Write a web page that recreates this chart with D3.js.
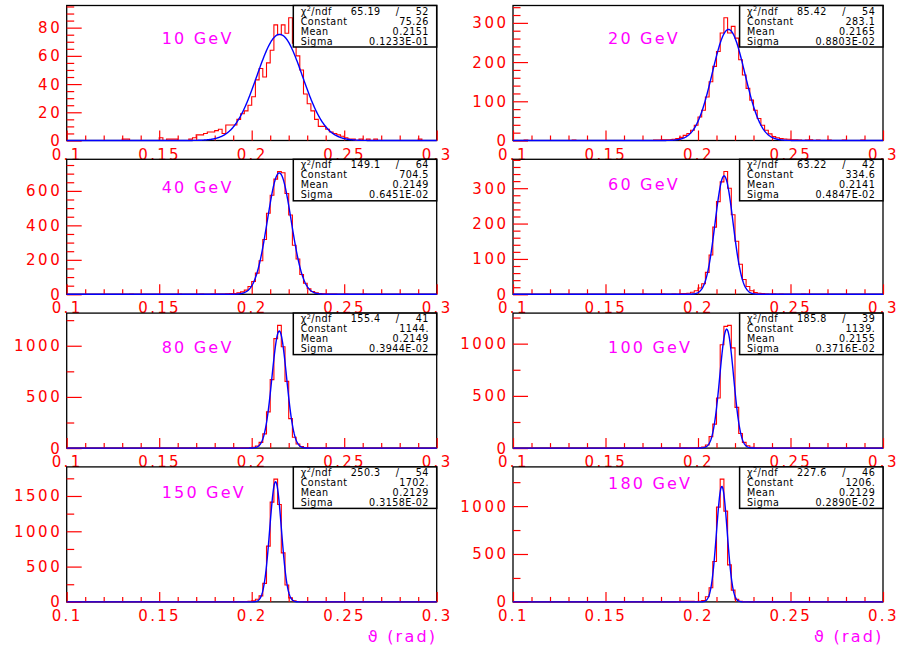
<!DOCTYPE html>
<html><head><meta charset="utf-8">
<script src="https://cdn.jsdelivr.net/npm/d3@7"></script>
<style>
body{margin:0;background:#fff}
text{font-family:"DejaVu Sans",sans-serif}
</style>
</head><body><svg id="c" width="898" height="652"></svg>
<script>
// ---------------- data ----------------
const energies = ["10 GeV","20 GeV","40 GeV","60 GeV","80 GeV","100 GeV","150 GeV","180 GeV"];
const chi2 = ["65.19","85.42","149.1","63.22","155.4","185.8","250.3","227.6"];
const ndf = ["52","54","64","42","41","39","54","46"];
const constants = ["75.26","283.1","704.5","334.6","1144.","1139.","1702.","1206."];
const means = ["0.2151","0.2165","0.2149","0.2141","0.2149","0.2155","0.2129","0.2129"];
const sigmas = ["0.1233E-01","0.8803E-02","0.6451E-02","0.4847E-02","0.3944E-02","0.3716E-02","0.3158E-02","0.2890E-02"];

// 100 bins from 0.1 to 0.3
const h10 = [
0,0,0,0,0,0,0,0,0,0,0,0,0,0,0,1,1,0,0,0,
0,0,0,0,0,2,0,1,1,1,0,0,0,1,2,4,4,5,6,6,
7,8,5,11,11,11,15,19,21,25,31,43,51,45,55,64,82,75,82,76,
87,69,60,50,33,26,21,15,10,10,8,6,5,4,3,2,1,1,0,1,
0,1,0,1,0,0,0,0,0,0,0,0,0,0,0,1,0,0,0,0];
const h20 = [
0,0,0,1,0,0,0,0,0,0,0,0,0,0,0,0,1,0,0,0,
0,0,0,0,0,0,0,0,0,0,0,0,0,0,0,0,0,0,1,1,
2,2,2,3,5,8,13,18,26,39,60,77,111,150,189,227,274,313,274,291,
261,206,167,133,103,77,56,39,26,17,10,7,5,4,3,2,2,1,0,1,
2,0,1,0,0,1,0,0,0,1,0,0,0,0,1,0,0,0,0,0];
const h40 = [
0,0,0,0,0,0,0,0,0,0,0,0,0,0,0,0,0,1,0,0,
0,0,0,0,0,0,0,0,0,0,1,0,0,0,0,0,1,0,0,1,
2,1,2,3,4,5,8,14,24,45,74,123,195,318,470,575,668,712,705,585,
460,285,205,115,64,32,16,8,5,3,2,1,1,0,0,1,0,0,0,0,
1,0,0,0,0,0,0,0,0,0,0,0,0,0,0,0,0,0,0,0];
const h60 = [
0,0,0,0,0,0,0,0,0,0,0,0,0,0,0,0,0,0,0,0,
0,0,0,0,0,0,0,0,0,0,0,0,0,0,0,1,0,0,0,0,
1,0,0,1,0,2,2,3,6,10,18,30,62,111,190,262,318,347,300,225,
150,85,42,22,10,5,3,2,1,0,1,0,1,0,0,0,0,0,1,0,
0,0,0,0,0,0,0,0,0,0,0,0,0,0,0,0,0,0,0,0];
const h80 = [
0,0,0,0,0,0,0,0,0,0,0,0,0,0,0,0,0,0,0,0,
0,0,0,0,0,0,0,0,0,0,0,0,0,0,0,0,0,0,0,0,
0,0,0,0,0,2,0,2,3,4,8,20,56,139,354,669,1070,1199,990,652,
288,106,40,15,6,3,1,0,1,0,1,0,0,0,0,0,0,0,0,0,
0,0,0,0,0,0,0,0,0,0,0,0,0,0,0,0,0,0,0,0];
const h100 = [
0,0,0,0,0,0,0,0,0,0,0,0,0,0,0,0,0,0,0,0,
0,0,0,0,0,0,0,0,0,0,0,0,0,0,0,0,0,0,0,0,
0,0,0,0,0,0,2,0,2,3,5,10,30,110,230,480,990,1165,1175,960,
390,140,55,23,8,4,2,0,1,0,0,1,0,0,0,0,0,0,0,0,
0,0,0,0,0,0,0,0,0,0,0,0,0,0,0,0,0,0,0,0];
const h150 = [
0,0,0,0,0,0,0,0,0,0,0,0,0,0,0,0,0,0,0,0,
0,0,0,0,0,0,0,0,0,0,0,0,0,0,0,0,0,0,0,0,
0,0,0,0,2,0,2,3,5,8,15,38,86,263,790,1413,1738,1379,694,240,
57,15,5,2,1,0,1,0,0,0,0,0,0,0,0,0,0,0,0,0,
0,0,0,0,0,0,0,0,0,0,0,0,0,0,0,0,0,0,0,0];
const h180 = [
0,0,0,0,0,0,0,0,0,0,0,0,0,0,0,0,0,0,0,0,
0,0,0,0,0,0,0,0,0,0,0,0,0,0,0,0,0,0,0,0,
0,0,0,0,3,5,6,5,6,4,6,14,53,147,421,989,1281,947,386,123,
28,7,3,1,0,1,0,0,0,0,0,0,0,0,0,0,0,0,0,0,
0,0,0,0,0,0,0,0,0,0,0,0,0,0,0,0,0,0,0,0];
const histograms = [h10,h20,h40,h60,h80,h100,h150,h180];

const xTickValues = [0.1,0.15,0.2,0.25,0.3];
const xTickLabels = ["0.1","0.15","0.2","0.25","0.3"];
const yTickValues = [[0,20,40,60,80],[0,100,200,300],[0,200,400,600],[0,100,200,300],
                     [0,500,1000],[0,500,1000],[0,500,1000,1500],[0,500,1000]];
const yMinorStep = [5,20,50,20,250,250,250,250];
const statNames = ["Constant","Mean","Sigma"];
const axisTitle = "\u03D1 (rad)";

// ---------------- layout ----------------
const colX = [66.7, 513];
const rowY = [5.5, 159.3, 313.1, 466.9];
const FW = 370, FH = 135;
const labelBaseline = [38, 38, 33.5, 31, 40, 40, 31.5, 22];
const RED = "#ff0000", BLUE = "#0000ff", MAG = "#ff00ff";

const svg = d3.select("#c");

histograms.forEach((counts, k) => {
  const col = k % 2, row = Math.floor(k / 2);
  const g = svg.append("g").attr("transform", `translate(${colX[col]},${rowY[row]})`);
  const nb = counts.length;
  const x = d3.scaleLinear().domain([0.1, 0.3]).range([0, FW]);
  const ymax = d3.max(counts) * 1.1;
  const y = d3.scaleLinear().domain([0, ymax]).range([FH, 0]);

  // frame
  g.append("rect").attr("width", FW).attr("height", FH)
    .attr("fill", "none").attr("stroke", "#000").attr("stroke-width", 1.3);

  // x ticks (inward, at bottom)
  const xMinor = d3.range(10, 31).map(d => d / 100).filter(v => !xTickValues.some(t => Math.abs(t - v) < 1e-9));
  const axX1 = g.append("g").attr("transform", `translate(0,${FH})`)
    .call(d3.axisBottom(x).tickValues(xTickValues).tickSize(-10).tickFormat(""));
  const axX2 = g.append("g").attr("transform", `translate(0,${FH})`)
    .call(d3.axisBottom(x).tickValues(xMinor).tickSize(-5).tickFormat(""));
  // y ticks (inward, at left)
  const yMaj = yTickValues[k].filter(v => v <= ymax);
  const yMin = d3.range(0, ymax, yMinorStep[k]).filter(v => !yMaj.includes(v));
  const axY1 = g.append("g").call(d3.axisLeft(y).tickValues(yMaj).tickSize(-15).tickFormat(""));
  const axY2 = g.append("g").call(d3.axisLeft(y).tickValues(yMin).tickSize(-7.5).tickFormat(""));
  [axX1, axX2, axY1, axY2].forEach(a => {
    a.select(".domain").remove();
    a.selectAll("line").attr("stroke", RED).attr("stroke-width", 1.2);
  });

  // tick labels
  g.selectAll(".xl").data(xTickValues).join("text")
    .attr("x", d => x(d) + 0.4).attr("y", FH + 19)
    .attr("text-anchor", "middle").attr("fill", RED)
    .style("font-size", "15px").style("letter-spacing", "2.3px")
    .text((d, i) => xTickLabels[i]);
  g.selectAll(".yl").data(yMaj).join("text")
    .attr("x", -4.5).attr("y", d => y(d) + 5.5)
    .attr("text-anchor", "end").attr("fill", RED)
    .style("font-size", "15px").style("letter-spacing", "2.5px")
    .text(d => d);

  // histogram outline
  const pts = [[0.1, 0]];
  counts.forEach((c, i) => {
    const lo = 0.1 + 0.2 * i / nb, hi = 0.1 + 0.2 * (i + 1) / nb;
    pts.push([lo, c], [hi, c]);
  });
  pts.push([0.3, 0]);
  g.append("path").attr("d", d3.line().x(d => x(d[0])).y(d => y(d[1]))(pts))
    .attr("fill", "none").attr("stroke", RED).attr("stroke-width", 1.1);

  // gaussian fit
  const C = parseFloat(constants[k]), M = parseFloat(means[k]), S = parseFloat(sigmas[k]);
  const fx = d3.range(0, 801).map(i => 0.1 + 0.2 * i / 800);
  g.append("path").attr("d", d3.line().x(v => x(v)).y(v => y(C * Math.exp(-0.5 * ((v - M) / S) ** 2)))(fx))
    .attr("fill", "none").attr("stroke", BLUE).attr("stroke-width", 1.4);

  // stat box
  const bw = 143.4, bh = 41.5;
  const box = g.append("g").attr("transform", `translate(${FW - bw},0)`);
  box.append("rect").attr("width", bw).attr("height", bh)
    .attr("fill", "#fff").attr("stroke", "#000").attr("stroke-width", 1.5);
  const st = (sel) => sel.attr("fill", "#000").style("font-size", "9.6px").style("letter-spacing", "0.45px");
  const t0 = st(box.append("text").attr("x", 7.4).attr("y", 9));
  t0.append("tspan").text("\u03C7");
  t0.append("tspan").attr("dy", -3.6).style("font-size", "6.5px").text("2");
  t0.append("tspan").attr("dy", 3.6).text("/ndf");
  st(box.append("text").attr("x", bw - 56.2).attr("y", 9).attr("text-anchor", "end")).text(chi2[k]);
  st(box.append("text").attr("x", bw - 39).attr("y", 9).attr("text-anchor", "middle")).text("/");
  st(box.append("text").attr("x", bw - 7.8).attr("y", 9).attr("text-anchor", "end")).text(ndf[k]);
  const vals = [constants[k], means[k], sigmas[k]];
  statNames.forEach((n, j) => {
    st(box.append("text").attr("x", 7.4).attr("y", 19.2 + 10 * j)).text(n);
    st(box.append("text").attr("x", bw - 7.8).attr("y", 19.2 + 10 * j).attr("text-anchor", "end")).text(vals[j]);
  });

  // energy label
  g.append("text").attr("x", 95).attr("y", labelBaseline[k])
    .attr("fill", MAG).style("font-size", "16px").style("letter-spacing", "2.2px")
    .text(energies[k]);

  // axis title under the bottom row
  if (row === 3) {
    g.append("text").attr("x", FW + 0.5).attr("y", FH + 40)
      .attr("text-anchor", "end").attr("fill", MAG)
      .style("font-size", "16px").style("letter-spacing", "2.2px")
      .text(axisTitle);
  }
});
</script>
</body></html>
